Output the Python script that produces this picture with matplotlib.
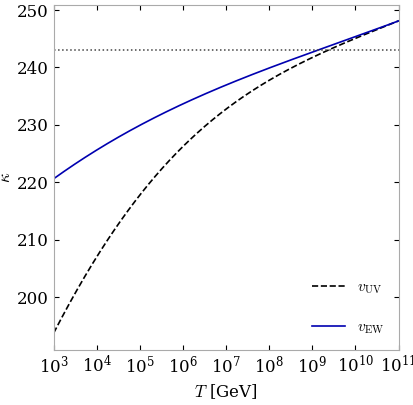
import numpy as np
import matplotlib
matplotlib.use("Agg")
import matplotlib.pyplot as plt

plt.rcParams['mathtext.fontset'] = 'cm'
plt.rcParams['font.family'] = 'serif'
plt.rcParams['font.serif'] = ['DejaVu Serif']

logT = [3, 4, 5, 6, 7, 8, 9, 10, 11]
kappa_uv = [193.5, 207.0, 218.5, 226.0, 232.4, 237.7, 241.9, 245.2, 247.95]
kappa_ew = [220.5, 225.8, 230.0, 233.6, 236.8, 239.8, 242.8, 245.5, 248.0]
kappa_ref = 243.0

fig = plt.figure(figsize=(4.13, 4.05), dpi=100)
ax = fig.add_axes([0.13, 0.136, 0.835, 0.852])

xs = np.linspace(3, 11, 400)
ce = np.polyfit(logT, kappa_ew, 3)
ew = np.polyval(ce, xs)
lx = np.array(logT[:-1], float)
d = np.array(kappa_ew[:-1]) - np.array(kappa_uv[:-1])
w = (11 - lx) / 8
cd = np.polyfit(lx, np.log(d / w), 2)
uv = ew - np.exp(np.polyval(cd, xs)) * (11 - xs) / 8

ax.plot(10**xs, uv, 'k--', lw=1.2, label=r'$v_{\rm UV}$')
ax.plot(10**xs, ew, color='#0000b0', lw=1.2, label=r'$v_{\rm EW}$')
ax.axhline(kappa_ref, color='#444444', ls=':', lw=1.1)

ax.set_xscale('log')
ax.set_xlim(1e3, 1e11)
ax.set_ylim(190.8, 250.9)
ax.set_xticks([10.0**v for v in logT])
ax.set_yticks([200, 210, 220, 230, 240, 250])
ax.tick_params(direction='in', which='both', top=True, right=True, labelsize=12, colors='k')
for s in ax.spines.values():
    s.set_color('#aaaaaa')
ax.set_xlabel(r'$T$ [GeV]', fontsize=12)
ax.set_ylabel(r'$\kappa$', fontsize=12, labelpad=2)
ax.legend(loc='lower right', frameon=False, fontsize=11, labelspacing=1.6, handlelength=2.2)
fig.savefig('out.png', dpi=100)
